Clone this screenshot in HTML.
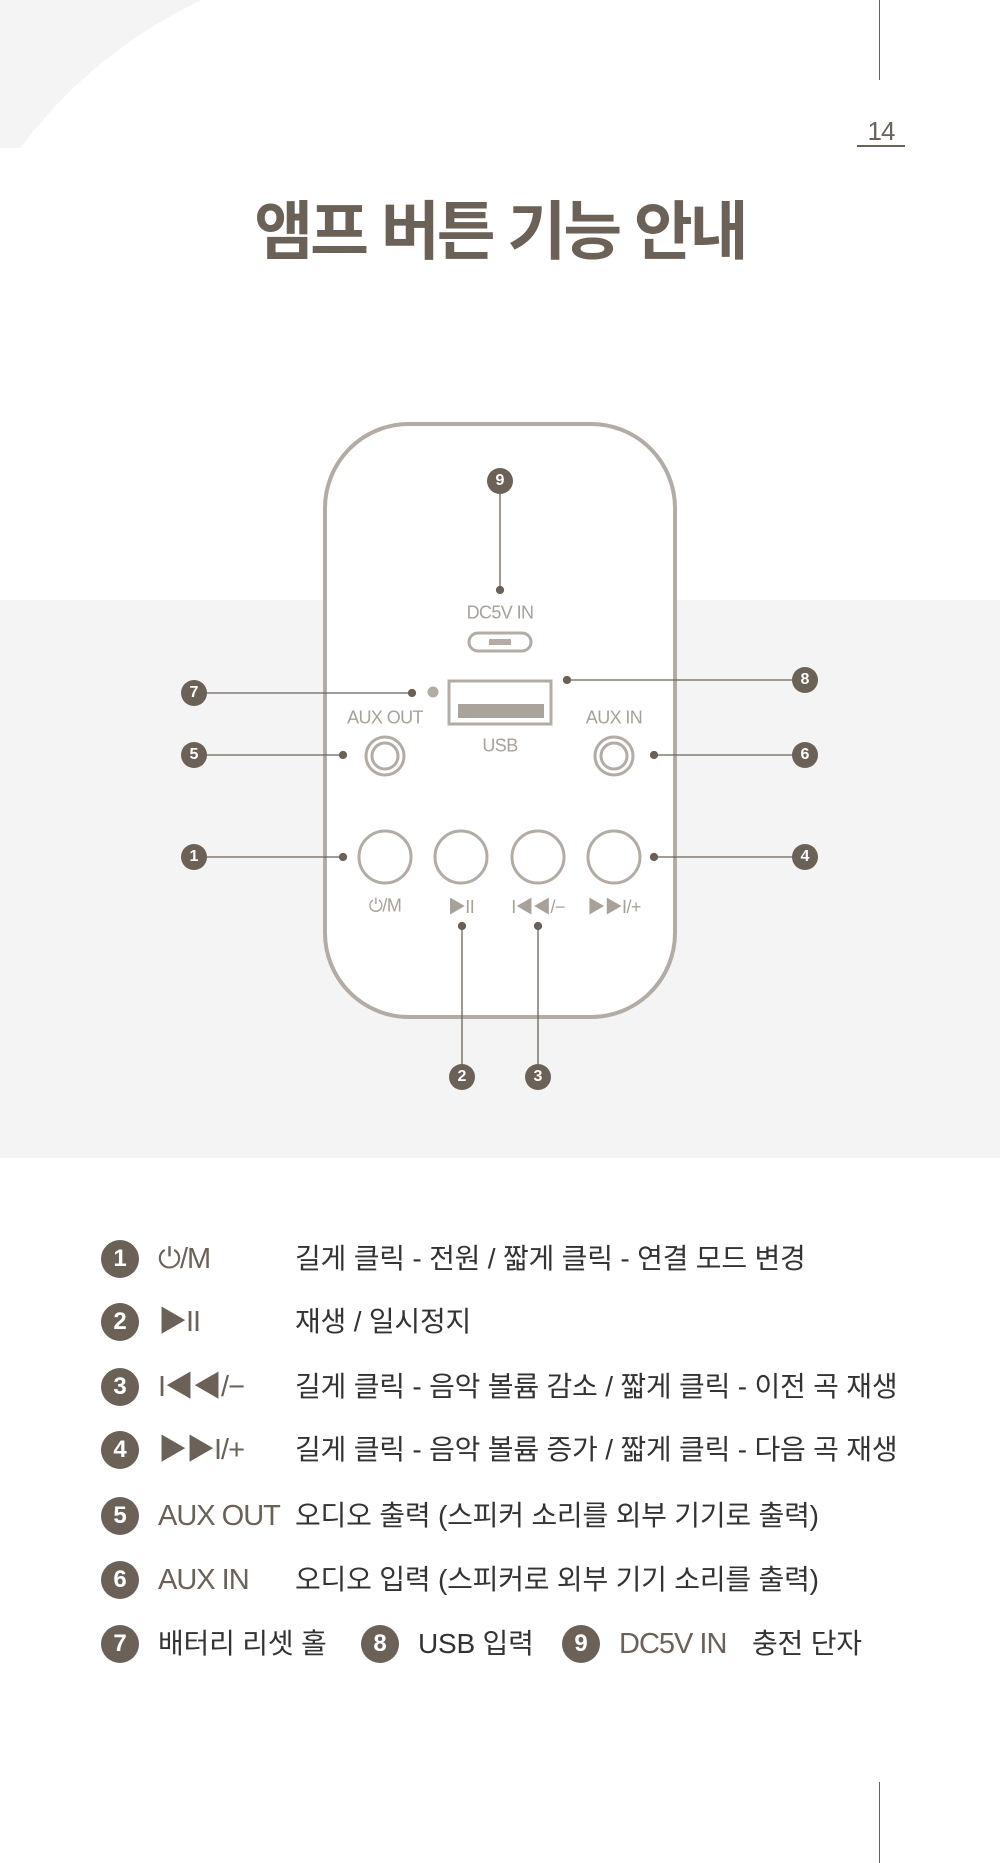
<!DOCTYPE html>
<html><head><meta charset="utf-8"><style>
*{margin:0;padding:0;box-sizing:border-box}
body{width:1000px;height:1863px;position:relative;overflow:hidden;background:#fff;font-family:"Liberation Sans","Noto Sans CJK KR",sans-serif}
.a{position:absolute}
.badge{position:absolute;width:26px;height:26px;border-radius:50%;background:#6b6157;color:#fff;font-weight:bold;font-size:16px;line-height:26px;text-align:center;transform:translate(-50%,-50%)}
.lb{position:absolute;width:38px;height:38px;border-radius:50%;background:#6b6157;color:#fff;font-weight:bold;font-size:24px;line-height:38px;text-align:center;transform:translate(-50%,-50%)}
.row{position:absolute;font-size:28px;letter-spacing:-0.2px;color:#333;white-space:nowrap;line-height:38px;transform:translateY(-50%)}
.sym{position:absolute;font-size:29px;color:#6b6157;white-space:nowrap;line-height:38px;transform:translateY(-50%);letter-spacing:-1px}
.gl{position:absolute;color:#a8a19a;font-size:18px;letter-spacing:-0.6px;white-space:nowrap;transform:translate(-50%,-50%)}
</style></head><body>
<div class="a" style="left:0;top:0;width:260px;height:148px;overflow:hidden;background:#f4f4f4">
 <div class="a" style="left:-75px;top:-45px;width:960px;height:960px;border-radius:50%;background:#fff"></div>
</div>
<div class="a" style="left:879px;top:0;width:1px;height:80px;background:#6b6157"></div>
<div class="a" style="left:879px;top:1782px;width:1px;height:81px;background:#6b6157"></div>
<div class="a" style="left:857px;top:116px;width:48px;text-align:center;font-size:26px;color:#6b6157;letter-spacing:-1px">14</div>
<div class="a" style="left:857px;top:145px;width:48px;height:2px;background:#6b6157"></div>
<div class="a" style="left:0;top:196px;width:1000px;text-align:center;font-size:64px;font-weight:bold;color:#6b6157;letter-spacing:-3px;line-height:72px">앰프 버튼 기능 안내</div>

<div class="a" style="left:0;top:600px;width:1000px;height:558px;background:#f4f4f4"></div>

<div class="a" style="left:323px;top:422px;width:354px;height:597px;border:4px solid #b3aca5;border-radius:86px;background:#fff"></div>

<svg class="a" style="left:0;top:0" width="1000" height="1200">
 <g stroke="#6b6157" stroke-width="1.3" fill="#6b6157">
  <line x1="500" y1="481" x2="500" y2="590"/><circle cx="500" cy="590" r="3.5"/>
  <line x1="194" y1="693" x2="412" y2="693"/><circle cx="412" cy="693" r="3.5"/>
  <line x1="194" y1="755" x2="343" y2="755"/><circle cx="343" cy="755" r="3.5"/>
  <line x1="194" y1="857" x2="343" y2="857"/><circle cx="343" cy="857" r="3.5"/>
  <line x1="567" y1="680" x2="805" y2="680"/><circle cx="567" cy="680" r="3.5"/>
  <line x1="654" y1="755" x2="805" y2="755"/><circle cx="654" cy="755" r="3.5"/>
  <line x1="654" y1="857" x2="805" y2="857"/><circle cx="654" cy="857" r="3.5"/>
  <line x1="462" y1="926" x2="462" y2="1077"/><circle cx="462" cy="926" r="3.5"/>
  <line x1="538" y1="926" x2="538" y2="1077"/><circle cx="538" cy="926" r="3.5"/>
 </g>
 <g stroke="#b3aca5" fill="none" stroke-width="3">
  <rect x="469" y="633" width="62" height="18" rx="9"/>
  <rect x="449" y="681" width="102" height="43"/>
  <circle cx="385" cy="756" r="19"/><circle cx="385" cy="756" r="13"/>
  <circle cx="614" cy="756" r="19"/><circle cx="614" cy="756" r="13"/>
  <circle cx="385" cy="857" r="26"/><circle cx="461" cy="857" r="26"/>
  <circle cx="538" cy="857" r="26"/><circle cx="614" cy="857" r="26"/>
 </g>
 <rect x="489" y="639" width="22" height="6" fill="#b3aca5"/>
 <rect x="458" y="704" width="86" height="14" fill="#aaa39c"/>
 <circle cx="433" cy="692" r="5.5" fill="#b3aca5"/>
</svg>
<div class="gl" style="left:500px;top:613px">DC5V IN</div>
<div class="gl" style="left:500px;top:746px">USB</div>
<div class="gl" style="left:385px;top:718px">AUX OUT</div>
<div class="gl" style="left:614px;top:718px">AUX IN</div>
<div class="gl" style="left:385px;top:906px">⏻/M</div>
<div class="gl" style="left:461px;top:906px">▶II</div>
<div class="gl" style="left:538px;top:906px">I◀◀/−</div>
<div class="gl" style="left:614px;top:906px">▶▶I/+</div>

<div class="badge" style="left:500px;top:481px">9</div>
<div class="badge" style="left:194px;top:693px">7</div>
<div class="badge" style="left:194px;top:755px">5</div>
<div class="badge" style="left:194px;top:857px">1</div>
<div class="badge" style="left:805px;top:680px">8</div>
<div class="badge" style="left:805px;top:755px">6</div>
<div class="badge" style="left:805px;top:857px">4</div>
<div class="badge" style="left:462px;top:1077px">2</div>
<div class="badge" style="left:538px;top:1077px">3</div>

<div class="lb" style="left:120px;top:1259px">1</div><div class="sym" style="left:158px;top:1259px">⏻/M</div><div class="row" style="left:295px;top:1259px">길게 클릭 - 전원 / 짧게 클릭 - 연결 모드 변경</div>
<div class="lb" style="left:120px;top:1322px">2</div><div class="sym" style="left:158px;top:1322px">▶II</div><div class="row" style="left:295px;top:1322px">재생 / 일시정지</div>
<div class="lb" style="left:120px;top:1387px">3</div><div class="sym" style="left:158px;top:1387px">I◀◀/−</div><div class="row" style="left:295px;top:1387px">길게 클릭 - 음악 볼륨 감소 / 짧게 클릭 - 이전 곡 재생</div>
<div class="lb" style="left:120px;top:1450px">4</div><div class="sym" style="left:158px;top:1450px">▶▶I/+</div><div class="row" style="left:295px;top:1450px">길게 클릭 - 음악 볼륨 증가 / 짧게 클릭 - 다음 곡 재생</div>
<div class="lb" style="left:120px;top:1516px">5</div><div class="sym" style="left:158px;top:1516px">AUX OUT</div><div class="row" style="left:295px;top:1516px">오디오 출력 (스피커 소리를 외부 기기로 출력)</div>
<div class="lb" style="left:120px;top:1580px">6</div><div class="sym" style="left:158px;top:1580px">AUX IN</div><div class="row" style="left:295px;top:1580px">오디오 입력 (스피커로 외부 기기 소리를 출력)</div>
<div class="lb" style="left:120px;top:1644px">7</div><div class="row" style="left:158px;top:1644px">배터리 리셋 홀</div>
<div class="lb" style="left:380px;top:1644px">8</div><div class="row" style="left:418px;top:1644px">USB 입력</div>
<div class="lb" style="left:581px;top:1644px">9</div><div class="sym" style="left:619px;top:1644px">DC5V IN</div><div class="row" style="left:752px;top:1644px">충전 단자</div>
</body></html>
